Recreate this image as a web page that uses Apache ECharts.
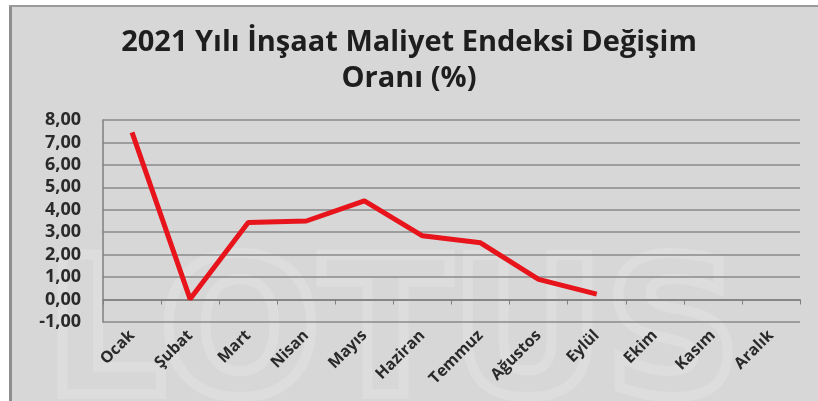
<!DOCTYPE html>
<html><head><meta charset="utf-8">
<script src="https://cdn.jsdelivr.net/npm/echarts@6/dist/echarts.min.js"></script>
<style>html,body{margin:0;padding:0;background:#fff}#c{width:818px;height:401px}</style>
</head><body><div id="c"></div>
<script>
const titleText = "2021 Yılı İnşaat Maliyet Endeksi Değişim\nOranı (%)";
const categories = ["Ocak","Şubat","Mart","Nisan","Mayıs","Haziran","Temmuz","Ağustos","Eylül","Ekim","Kasım","Aralık"];
const values = [7.45, 0.02, 3.43, 3.50, 4.40, 2.84, 2.53, 0.90, 0.24, null, null, null];
const yMin = -1, yMax = 8, yStep = 1;

const chart = echarts.init(document.getElementById('c'));
chart.setOption({
  animation: false,
  backgroundColor: '#ffffff',
  graphic: [
    {type:'rect', shape:{x:10,y:5,width:808,height:396}, style:{fill:'#d7d7d7'}, z:-10},
    {type:'rect', shape:{x:9,y:5,width:3,height:396}, style:{fill:'#8e8e8e'}, z:-9},
    {type:'rect', shape:{x:9,y:5,width:809,height:2}, style:{fill:'#9a9a9a'}, z:-9},
    {type:'text', left:40, top:245, z:-8, style:{text:'LOTUS', font:'bold 190px "DejaVu Sans"', fill:'rgba(0,0,0,0)', stroke:'#dddddd', lineWidth:10, letterSpacing: 40}}
  ],
  title: {
    text: titleText, left: 'center', top: 20,
    textStyle: {fontFamily:'"Open Sans"', fontWeight:'bold', fontSize:29, color:'#1e1e1e', lineHeight:36}
  },
  grid: {left:103, right:18, top:120, bottom:79},
  xAxis: {
    type:'category', data: categories, boundaryGap:true,
    axisLine:{onZero:true, lineStyle:{color:'#7f7f7f', width:1.5}},
    axisTick:{show:true, length:5, lineStyle:{color:'#7f7f7f'}},
    axisLabel:{rotate:45, interval:0, margin:11, fontFamily:'"Open Sans"', fontWeight:'bold', fontSize:16, color:'#2a2a2a'}
  },
  yAxis: {
    type:'value', min:yMin, max:yMax, interval:yStep,
    axisLine:{show:true, lineStyle:{color:'#7f7f7f', width:1.5}},
    axisTick:{show:false},
    splitLine:{lineStyle:{color:'#8a8a8a', width:1.5}},
    axisLabel:{formatter: v => v.toFixed(2).replace('.', ','), fontFamily:'"Open Sans"', fontWeight:'bold', fontSize:18, color:'#2a2a2a', margin:22}
  },
  series: [{
    type:'line', data: values, symbol:'none', connectNulls:false,
    lineStyle:{color:'#e8141c', width:5}
  }]
});
</script></body></html>
